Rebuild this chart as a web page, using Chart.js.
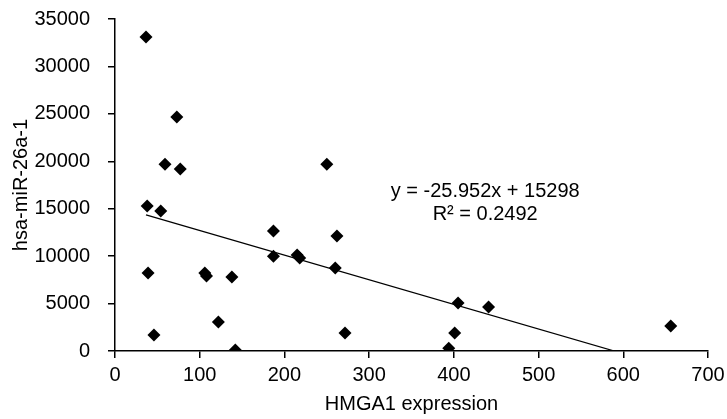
<!DOCTYPE html>
<html>
<head>
<meta charset="utf-8">
<script src="https://cdn.jsdelivr.net/npm/chart.js@4.4.0/dist/chart.umd.min.js"></script>
<style>
  html, body { margin: 0; padding: 0; background: #fff; }
  #wrap { width: 727px; height: 419px; position: relative; }
</style>
</head>
<body>
<div id="wrap"><canvas id="c" width="727" height="419"></canvas></div>
<script>
// HMGA1 expression (x) vs hsa-miR-26a-1 (y)
const hmga1 = [36.6, 73, 59, 77, 38, 54, 39, 46, 106, 108, 138, 122, 142, 250, 187, 187, 215, 218, 262, 260, 271.5, 401, 394, 405, 441, 656];
const mir26a1 = [33100, 24660, 19700, 19180, 15280, 14750, 8220, 1690, 8220, 7900, 7800, 3060, 100, 19700, 12650, 10000, 10120, 9800, 12120, 8750, 1900, 1900, 300, 5060, 4640, 2640];
const trendSlope = -25.952;
const trendIntercept = 15298;
const trendR2 = 0.2492;
const xTicks = [0, 100, 200, 300, 400, 500, 600, 700];
const yTicks = [0, 5000, 10000, 15000, 20000, 25000, 30000, 35000];

const points = hmga1.map((x, i) => ({ x: x, y: mir26a1[i] }));
const xStart = Math.min(...hmga1);
const xEnd = -trendIntercept / trendSlope;
const trend = [
  { x: xStart, y: trendSlope * xStart + trendIntercept },
  { x: xEnd, y: 0 }
];
const eqLines = [
  'y = ' + trendSlope + 'x + ' + trendIntercept,
  'R\u00b2 = ' + trendR2
];

const FONT = '"Liberation Sans", Arial, sans-serif';
const FS = 20;

const eqPlugin = {
  id: 'eqText',
  afterDatasetsDraw(chart) {
    const { ctx, scales } = chart;
    const cx = scales.x.getPixelForValue(437);
    const y1 = scales.y.getPixelForValue(16860);
    const y2 = scales.y.getPixelForValue(14440);
    ctx.save();
    ctx.font = FS + 'px ' + FONT;
    ctx.fillStyle = '#000';
    ctx.textAlign = 'center';
    ctx.textBaseline = 'middle';
    ctx.fillText(eqLines[0], cx, y1);
    ctx.fillText(eqLines[1], cx, y2);
    ctx.restore();
  }
};

new Chart(document.getElementById('c'), {
  type: 'scatter',
  data: {
    datasets: [
      {
        data: points,
        pointStyle: 'rectRot',
        pointRadius: 6.5,
        pointHoverRadius: 6.5,
        backgroundColor: '#000',
        borderColor: '#000',
        borderWidth: 0
      },
      {
        type: 'line',
        data: trend,
        borderColor: '#000',
        borderWidth: 1.3,
        pointRadius: 0,
        fill: false
      }
    ]
  },
  options: {
    responsive: false,
    animation: false,
    devicePixelRatio: 1,
    layout: { padding: { top: 19, right: 19, left: 0, bottom: 0 } },
    plugins: { legend: { display: false }, tooltip: { enabled: false } },
    scales: {
      x: {
        type: 'linear',
        min: 0, max: 700,
        afterBuildTicks: (s) => { s.ticks = xTicks.map(v => ({ value: v })); },
        afterFit: (s) => { s.height = 68; s.paddingLeft = 0; s.paddingRight = 0; },
        grid: { display: true, drawOnChartArea: false, drawTicks: true, tickLength: 7, color: '#000', lineWidth: 1.5 },
        border: { display: true, color: '#000', width: 1.5 },
        ticks: { color: '#000', font: { family: FONT, size: FS }, padding: 5, maxRotation: 0 },
        title: { display: true, text: 'HMGA1 expression', color: '#000', font: { family: FONT, size: FS }, padding: { top: 0, bottom: 3 } }
      },
      y: {
        type: 'linear',
        min: 0, max: 35000,
        afterBuildTicks: (s) => { s.ticks = yTicks.map(v => ({ value: v })); },
        afterFit: (s) => { s.width = 115; s.paddingTop = 0; s.paddingBottom = 0; },
        grid: { display: true, drawOnChartArea: false, drawTicks: true, tickLength: 7, color: '#000', lineWidth: 1.5 },
        border: { display: true, color: '#000', width: 1.5 },
        ticks: { color: '#000', font: { family: FONT, size: FS }, padding: 18, callback: (v) => String(v) },
        title: { display: true, text: 'hsa-miR-26a-1', color: '#000', font: { family: FONT, size: FS }, padding: { top: 9, bottom: 0 } }
      }
    }
  },
  plugins: [eqPlugin]
});
</script>
</body>
</html>
